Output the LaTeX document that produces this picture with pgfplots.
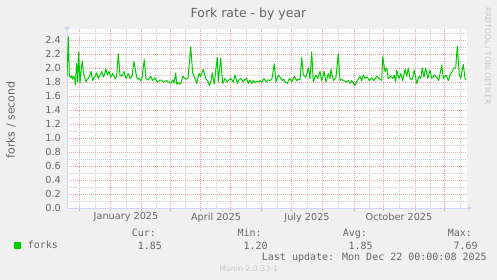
\documentclass[border=0pt]{standalone}
\usepackage{fontspec}
\setmainfont{DejaVu Sans}
\newfontfamily\mono{DejaVu Sans Mono}
\usepackage{pgfplots}
\pgfplotsset{compat=1.18}
\usetikzlibrary{arrows.meta}
\definecolor{bg}{HTML}{F0F0F0}
\definecolor{fontc}{HTML}{666666}
\definecolor{axisc}{HTML}{CFD6F8}
\definecolor{mgrid}{HTML}{F2A0A0}
\definecolor{gridc}{HTML}{CFCFCF}
\definecolor{forks}{HTML}{00CC00}
\definecolor{wm}{HTML}{C8C8C8}
\begin{document}
\begin{tikzpicture}
\path[use as bounding box, fill=bg] (0,0) rectangle (497bp,280bp);
\begin{axis}[
  at={(67bp,72bp)}, anchor=south west,
  width=400bp, height=178.5bp, scale only axis,
  xmin=67, xmax=467, ymin=0, ymax=2.55,
  axis lines=left,
  axis background/.style={fill=white},
  axis line style={draw=axisc, line width=1bp},
  x axis line style={-{Triangle[length=4bp,width=5bp]}, shorten >=-5bp},
  y axis line style={-{Triangle[length=4bp,width=5bp]}, shorten >=-4bp},
  grid=both,
  major x grid style={draw=gridc, dash pattern=on 1bp off 1bp, line width=0.8bp},
  minor x grid style={draw=mgrid, dash pattern=on 1bp off 1bp, line width=0.8bp},
  major y grid style={draw=mgrid, dash pattern=on 1bp off 1bp, line width=0.8bp},
  minor y grid style={draw=gridc, dash pattern=on 1bp off 1bp, line width=0.8bp},
  xtick={95,126,156,185,216,246,277,307,338,369,399,430,460},
  xticklabels={,January 2025,,,April 2025,,,July 2025,,,October 2025,,},
  minor xtick={79.5,110.7,141.7,170,200.7,230.7,261.7,291,322.7,354,383.5,415,444.5},
  ytick={0,0.2,0.4,0.6,0.8,1.0,1.2,1.4,1.6,1.8,2.0,2.2,2.4},
  yticklabels={0.0,0.2,0.4,0.6,0.8,1.0,1.2,1.4,1.6,1.8,2.0,2.2,2.4},
  minor ytick={0.1,0.3,0.5,0.7,0.9,1.1,1.3,1.5,1.7,1.9,2.1,2.3,2.5},
  tick align=outside, major tick length=0pt, minor tick length=2.5bp,
  minor x tick style={draw=mgrid, line width=0.8bp},
  minor y tick style={draw=none},
  tick label style={font=\fontsize{9.7bp}{11bp}\selectfont, text=fontc},
  yticklabel style={anchor=east, inner sep=0pt, xshift=-6bp},
  xticklabel style={anchor=north, inner sep=0pt, yshift=-4.5bp},
  legend style={at={(axis description cs:-0.1325,-0.2073)}, anchor=west,
    draw=none, fill=none, inner sep=0pt,
    font=\mono\fontsize{10bp}{12bp}\selectfont,
    nodes={inner sep=0pt, text=fontc}},
  legend image code/.code={\fill[forks] (0bp,-3bp) rectangle (6bp,3bp); \path (12.7bp,0bp);},
]
\addplot[forks, line width=1bp, line join=round] coordinates {
(67.0,1.88) (68.3,2.45) (69.3,1.90) (70.7,1.86) (71.7,1.89) (72.7,1.84) (73.7,1.88) (74.7,1.85)
(75.3,1.76) (76.7,2.07) (77.7,1.80) (78.7,2.23) (80.0,1.78) (81.0,1.95) (82.3,2.10) (83.3,1.95)
(84.3,1.88) (86.0,1.80) (87.2,1.84) (88.3,1.85) (90.0,1.90) (91.0,1.95) (92.7,1.82) (93.8,1.86)
(95.0,1.88) (96.7,1.93) (98.3,1.85) (100.0,1.90) (101.7,1.95) (103.3,1.87) (104.6,1.91) (106.0,1.99)
(107.3,1.90) (109.0,1.95) (111.0,1.87) (112.7,1.92) (115.0,1.85) (116.6,1.88) (118.3,2.20) (120.0,1.90)
(121.7,1.88) (124.0,1.95) (126.0,1.85) (128.3,1.92) (130.0,1.85) (132.0,1.88) (134.0,2.09) (136.7,1.87)
(138.0,1.84) (139.3,1.85) (140.5,1.82) (141.7,1.83) (144.3,2.12) (146.0,1.85) (148.3,1.83) (150.7,1.88)
(152.7,1.82) (155.0,1.86) (156.6,1.81) (158.3,1.80) (160.0,1.83) (161.7,1.82) (163.3,1.80) (165.0,1.81)
(166.7,1.82) (168.3,1.80) (170.7,1.78) (172.7,1.83) (174.0,1.78) (175.7,1.93) (176.7,1.77) (178.3,1.79)
(180.0,1.77) (181.4,1.80) (182.7,1.88) (185.0,1.85) (186.5,1.84) (188.0,1.86) (190.7,2.30) (192.7,1.93)
(195.0,1.85) (196.7,1.78) (199.0,1.92) (200.7,1.88) (203.3,1.98) (205.7,1.85) (208.3,1.80) (209.3,1.75)
(210.7,1.80) (212.3,1.93) (214.3,1.77) (216.0,2.00) (217.3,2.15) (218.3,1.80) (220.7,2.14) (222.7,1.78)
(225.0,1.85) (226.7,1.80) (228.3,1.82) (230.7,1.85) (233.3,1.80) (235.0,1.90) (237.3,1.78) (239.0,1.83)
(240.7,1.85) (243.3,1.80) (245.0,1.84) (246.7,1.85) (248.3,1.78) (250.0,1.83) (251.7,1.78) (253.3,1.82)
(255.0,1.79) (256.7,1.81) (258.3,1.80) (260.0,1.82) (261.7,1.80) (264.0,1.85) (266.0,1.80) (268.0,1.83)
(270.0,1.82) (272.0,1.85) (274.3,2.06) (276.0,1.80) (278.3,1.90) (280.0,1.87) (282.3,1.82) (283.7,1.84)
(285.0,1.80) (287.3,1.78) (288.7,1.83) (290.0,1.85) (291.7,1.80) (294.3,1.88) (296.7,1.82) (298.3,1.84)
(300.0,1.83) (301.7,2.15) (303.3,1.90) (306.0,1.87) (308.3,2.00) (310.0,1.85) (311.7,2.23) (313.3,1.80)
(315.7,1.90) (317.7,1.85) (320.0,1.95) (321.7,1.82) (324.0,1.95) (326.0,1.80) (328.3,1.92) (330.0,1.85)
(331.0,1.98) (333.3,1.82) (336.0,1.87) (338.3,2.20) (340.0,1.82) (341.7,1.84) (343.3,1.82) (345.0,1.81)
(346.7,1.80) (348.3,1.82) (350.0,1.78) (351.7,1.82) (355.0,1.75) (357.3,1.82) (360.0,1.88) (361.7,1.82)
(363.3,1.90) (365.0,1.85) (367.3,1.87) (369.3,1.82) (371.7,1.86) (374.0,1.82) (376.7,1.88) (379.3,1.85)
(381.7,1.82) (382.7,2.16) (385.0,1.95) (386.7,2.00) (388.3,1.85) (390.7,1.88) (392.7,1.85) (394.3,1.90)
(395.7,1.80) (396.7,1.97) (399.0,1.85) (400.7,1.92) (402.7,1.82) (405.0,1.98) (406.7,1.88) (408.3,2.00)
(410.0,1.85) (412.0,1.83) (414.3,1.97) (416.7,1.78) (419.0,1.88) (420.7,1.85) (422.3,2.00) (424.0,1.87)
(425.7,2.00) (427.7,1.85) (430.0,1.97) (431.7,1.85) (434.3,1.90) (436.7,1.87) (438.7,1.82) (441.7,2.04)
(443.3,1.85) (446.0,1.90) (448.3,1.82) (450.0,1.90) (452.3,1.95) (454.0,2.00) (455.7,2.00) (457.3,2.31)
(459.3,1.90) (460.7,1.85) (463.3,2.05) (465.0,1.85) (466.0,1.83)
};
\addlegendentry{forks}
\end{axis}
\node[anchor=base, font=\fontsize{12.5bp}{14bp}\selectfont, text=fontc] at (248.5bp,262bp) {Fork rate - by year};
\node[rotate=90, font=\fontsize{11bp}{13bp}\selectfont, text=fontc] at (11bp,160bp) {forks / second};
\node[rotate=-90, font=\fontsize{7.6bp}{9bp}\selectfont, text=wm] at (487.5bp,224bp) {RRDTOOL / TOBI OETIKER};
\begin{scope}[every node/.style={anchor=base west, inner sep=0pt, font=\mono\fontsize{10bp}{12bp}\selectfont, text=fontc}]
\node at (131.7bp,43bp) {Cur:};
\node at (137.7bp,30.5bp) {1.85};
\node at (237.3bp,43bp) {Min:};
\node at (243.3bp,30.5bp) {1.20};
\node at (342.7bp,43bp) {Avg:};
\node at (348.3bp,30.5bp) {1.85};
\node at (447.7bp,43bp) {Max:};
\node at (453.3bp,30.5bp) {7.69};
\node at (261.7bp,19.5bp) {Last update: Mon Dec 22 00:00:08 2025};
\end{scope}
\node[anchor=base, inner sep=0pt, font=\fontsize{7.8bp}{9bp}\selectfont, text=wm] at (248.7bp,8.3bp) {Munin 2.0.33-1};
\end{tikzpicture}
\end{document}
